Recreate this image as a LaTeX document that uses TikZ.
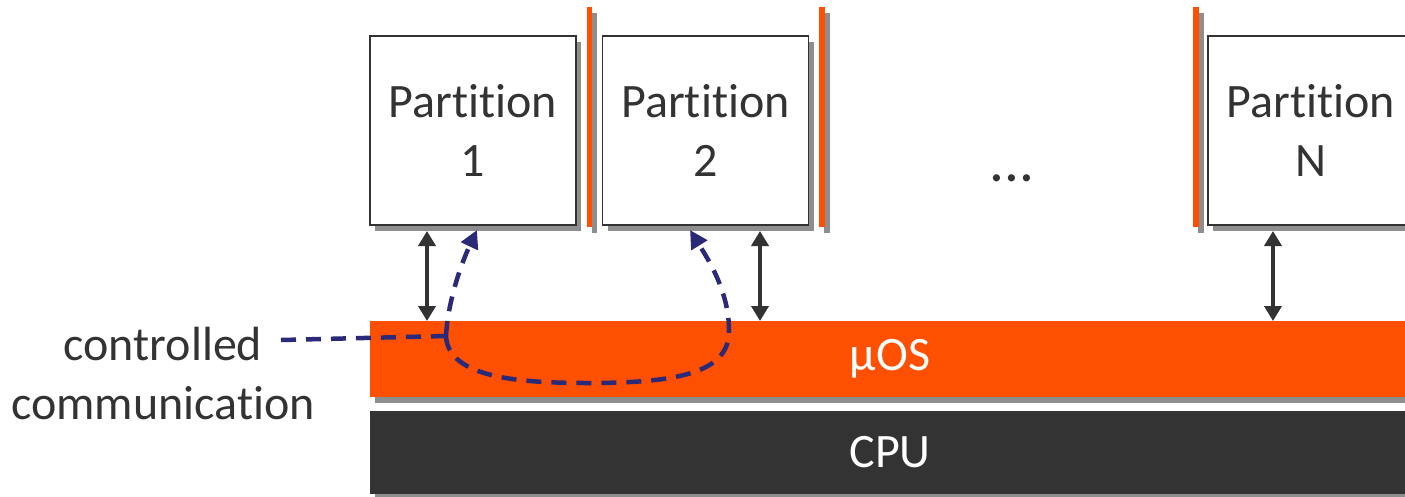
\documentclass[tikz,border=0pt]{standalone}
\usepackage{fontspec}
\setmainfont{Carlito}[Ligatures=NoCommon]
\usetikzlibrary{arrows.meta,shadows}
\definecolor{uosorange}{HTML}{FF4F00}
\definecolor{cpugray}{HTML}{333333}
\definecolor{inkgray}{HTML}{333333}
\definecolor{commblue}{HTML}{2B2A78}
\definecolor{shade}{HTML}{8E8E8E}
\begin{document}
\begin{tikzpicture}[x=1pt,y=-1pt,
  every node/.style={font=\fontsize{48}{59}\selectfont, inner sep=0pt, outer sep=0pt},
  dshadow/.style={drop shadow={shadow xshift=5pt, shadow yshift=-6pt, fill=shade, opacity=1}},
  partbox/.style={draw=inkgray, line width=1.3pt, fill=white, minimum width=206pt,
    minimum height=189pt, align=center, text=inkgray, dshadow},
  sepbar/.style={fill=uosorange, minimum width=5.5pt, minimum height=220pt, dshadow},
  layerbar/.style={minimum width=1040pt, text=white, dshadow},
  dbl/.style={draw=cpugray, line width=4.5pt, {Triangle[length=15pt,width=17pt]}-{Triangle[length=15pt,width=17pt]}},
  comm/.style={draw=commblue, line width=4.5pt, dash pattern=on 15pt off 10pt},
  commtip/.style={-{Triangle[length=18pt,width=18pt]}}
]
\useasboundingbox (0,0) rectangle (1405,496);
\clip (0,0) rectangle (1405,496);

% separator bars between partitions
\node[sepbar] (s1) at (589.5,117) {};
\node[sepbar] (s2) at (822,117) {};
\node[sepbar] (s3) at (1196,117) {};

% partitions
\node[partbox] (p1) at (473,130.5) {Partition\\1};
\node[partbox] (p2) at (705.5,130.5) {Partition\\2};
\node[partbox] (pN) at (1311,130.5) {Partition\\N};
\node[text=inkgray, anchor=base] (dots) at (1012,181) {\textbf{.\kern2pt.\kern2pt.}};

% layers
\node[layerbar, fill=uosorange, minimum height=76pt] (uos) at (890,359) {µOS};
\node[layerbar, fill=cpugray, minimum height=83pt] (cpu) at (890,452.5) {CPU};

% partition <-> kernel calls
\coordinate (a1) at (427,0);
\coordinate (a2) at (760,0);
\coordinate (aN) at (1273,0);
\draw[dbl] ([yshift=-6pt]p1.south -| a1) -- (uos.north -| a1);
\draw[dbl] ([yshift=-6pt]p2.south -| a2) -- (uos.north -| a2);
\draw[dbl] ([yshift=-6pt]pN.south -| aN) -- (uos.north -| aN);

% controlled communication path
\node[text=inkgray, align=center] (ctl) at (163,374) {controlled\\communication};
\coordinate (ctlend) at (281,340);
\coordinate (join) at (446,336);
\coordinate (t1) at (477,230);
\coordinate (t2) at (690,230);
\draw[comm] (ctlend) -- (join);
\draw[comm, commtip] (join) .. controls (448,300) and (462,262) .. (t1);
\draw[comm, commtip] (join) .. controls (448,378) and (520,383) .. (588,383)
  .. controls (680,383) and (730,372) .. (729,330)
  .. controls (729,290) and (706,256) .. (t2);
\end{tikzpicture}
\end{document}
